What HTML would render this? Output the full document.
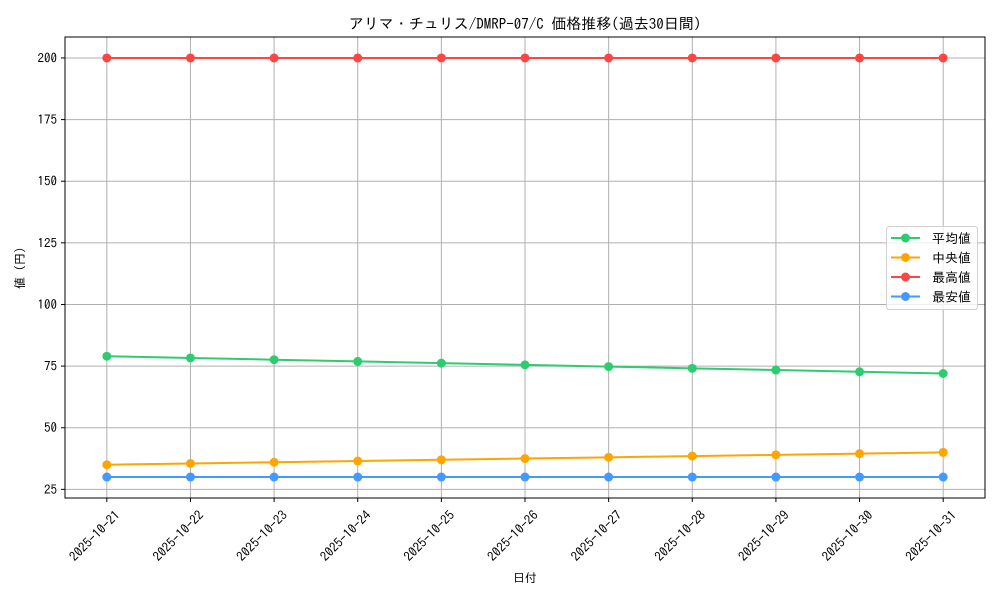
<!DOCTYPE html>
<html><head><meta charset="utf-8"><style>
body{margin:0;background:#fff;}
svg{display:block;font-family:"IPAGothic","Noto Sans CJK JP",sans-serif;}
</style></head><body>
<svg id="chart" width="1000" height="600"></svg>
<script>
const categories=["2025-10-21","2025-10-22","2025-10-23","2025-10-24","2025-10-25","2025-10-26","2025-10-27","2025-10-28","2025-10-29","2025-10-30","2025-10-31"];
const avgValues=[79,78.3,77.6,76.9,76.2,75.5,74.8,74.1,73.4,72.7,72];
const medianValues=[35,35.5,36,36.5,37,37.5,38,38.5,39,39.5,40];
const maxValues=[200,200,200,200,200,200,200,200,200,200,200];
const minValues=[30,30,30,30,30,30,30,30,30,30,30];
const yTicks=[25,50,75,100,125,150,175,200];
const seriesNames=["平均値","中央値","最高値","最安値"];
const NS="http://www.w3.org/2000/svg";
const svg=document.getElementById('chart');
const L=65,R=985,T=37,B=498;
const all=[].concat(avgValues,medianValues,maxValues,minValues);
const dmin=Math.min(...all),dmax=Math.max(...all),pad=(dmax-dmin)*0.05;
const y0=dmin-pad,y1=dmax+pad;
const n=categories.length;
function xs(i){return L+(i+0.5)/(n-1+1)*(R-L);}
function ys(v){return B-(v-y0)/(y1-y0)*(B-T);}
function el(tag,attrs,parent){const e=document.createElementNS(NS,tag);for(const k in attrs)e.setAttribute(k,attrs[k]);(parent||svg).appendChild(e);return e;}
categories.forEach((c,i)=>{
  const g=el('line',{x1:xs(i),x2:xs(i),y1:T,y2:B,stroke:'#b0b0b0','stroke-width':1});
  
  
  el('line',{x1:xs(i),x2:xs(i),y1:B,y2:B+4,stroke:'#000'});
  const ax=xs(i)+14,ay=B+18;
  const t=el('text',{x:ax,y:ay,'font-size':13,'text-anchor':'end',transform:`rotate(-45 ${ax} ${ay})`});
  t.textContent=c;
  
  
});
yTicks.forEach(v=>{
  const g=el('line',{x1:L,x2:R,y1:ys(v),y2:ys(v),stroke:'#b0b0b0','stroke-width':1});
  
  
  el('line',{x1:L-4,x2:L,y1:ys(v),y2:ys(v),stroke:'#000'});
  const t=el('text',{x:L-8,y:ys(v)+4.5,'font-size':13,'text-anchor':'end'});
  t.textContent=v;
  
  
});
const series=[[avgValues,'#2ecc71'],[medianValues,'#ffa500'],[maxValues,'#ff4444'],[minValues,'#4499ff']];
series.forEach(([vals,col],k)=>{
  const p=el('polyline',{points:vals.map((v,i)=>xs(i)+','+ys(v)).join(' '),fill:'none',stroke:col,'stroke-width':2});
  
  
  vals.forEach((v,i)=>{
    const c=el('circle',{cx:xs(i),cy:ys(v),r:4.5,fill:col});
    
    
  });
});
const frame=el('rect',{x:L,y:T,width:R-L,height:B-T,fill:'none',stroke:'#000','stroke-width':1});


const lg=el('g',{});


el('rect',{x:886.5,y:226.5,width:91,height:83,rx:3,fill:'#fff','fill-opacity':0.8,stroke:'#d0d0d0'},lg);
series.forEach(([v,col],k)=>{
  const yy=238+k*19.5;
  el('line',{x1:891,x2:920,y1:yy,y2:yy,stroke:col,'stroke-width':2},lg);
  el('circle',{cx:905.5,cy:yy,r:4.5,fill:col},lg);
  const t=el('text',{x:932,y:yy+5,'font-size':13},lg);
  t.textContent=seriesNames[k];
  
  
});
const title=el('text',{x:525,y:29,'font-size':15,'text-anchor':'middle'});
title.textContent='アリマ・チュリス/DMRP-07/C 価格推移(過去30日間)';


const xl=el('text',{x:525,y:582,'font-size':12,'text-anchor':'middle'});
xl.textContent='日付';


const yl=el('text',{x:24,y:268,'font-size':12,'text-anchor':'middle',transform:'rotate(-90 24 268)'});
yl.textContent='値 (円)';


</script>
</body></html>
